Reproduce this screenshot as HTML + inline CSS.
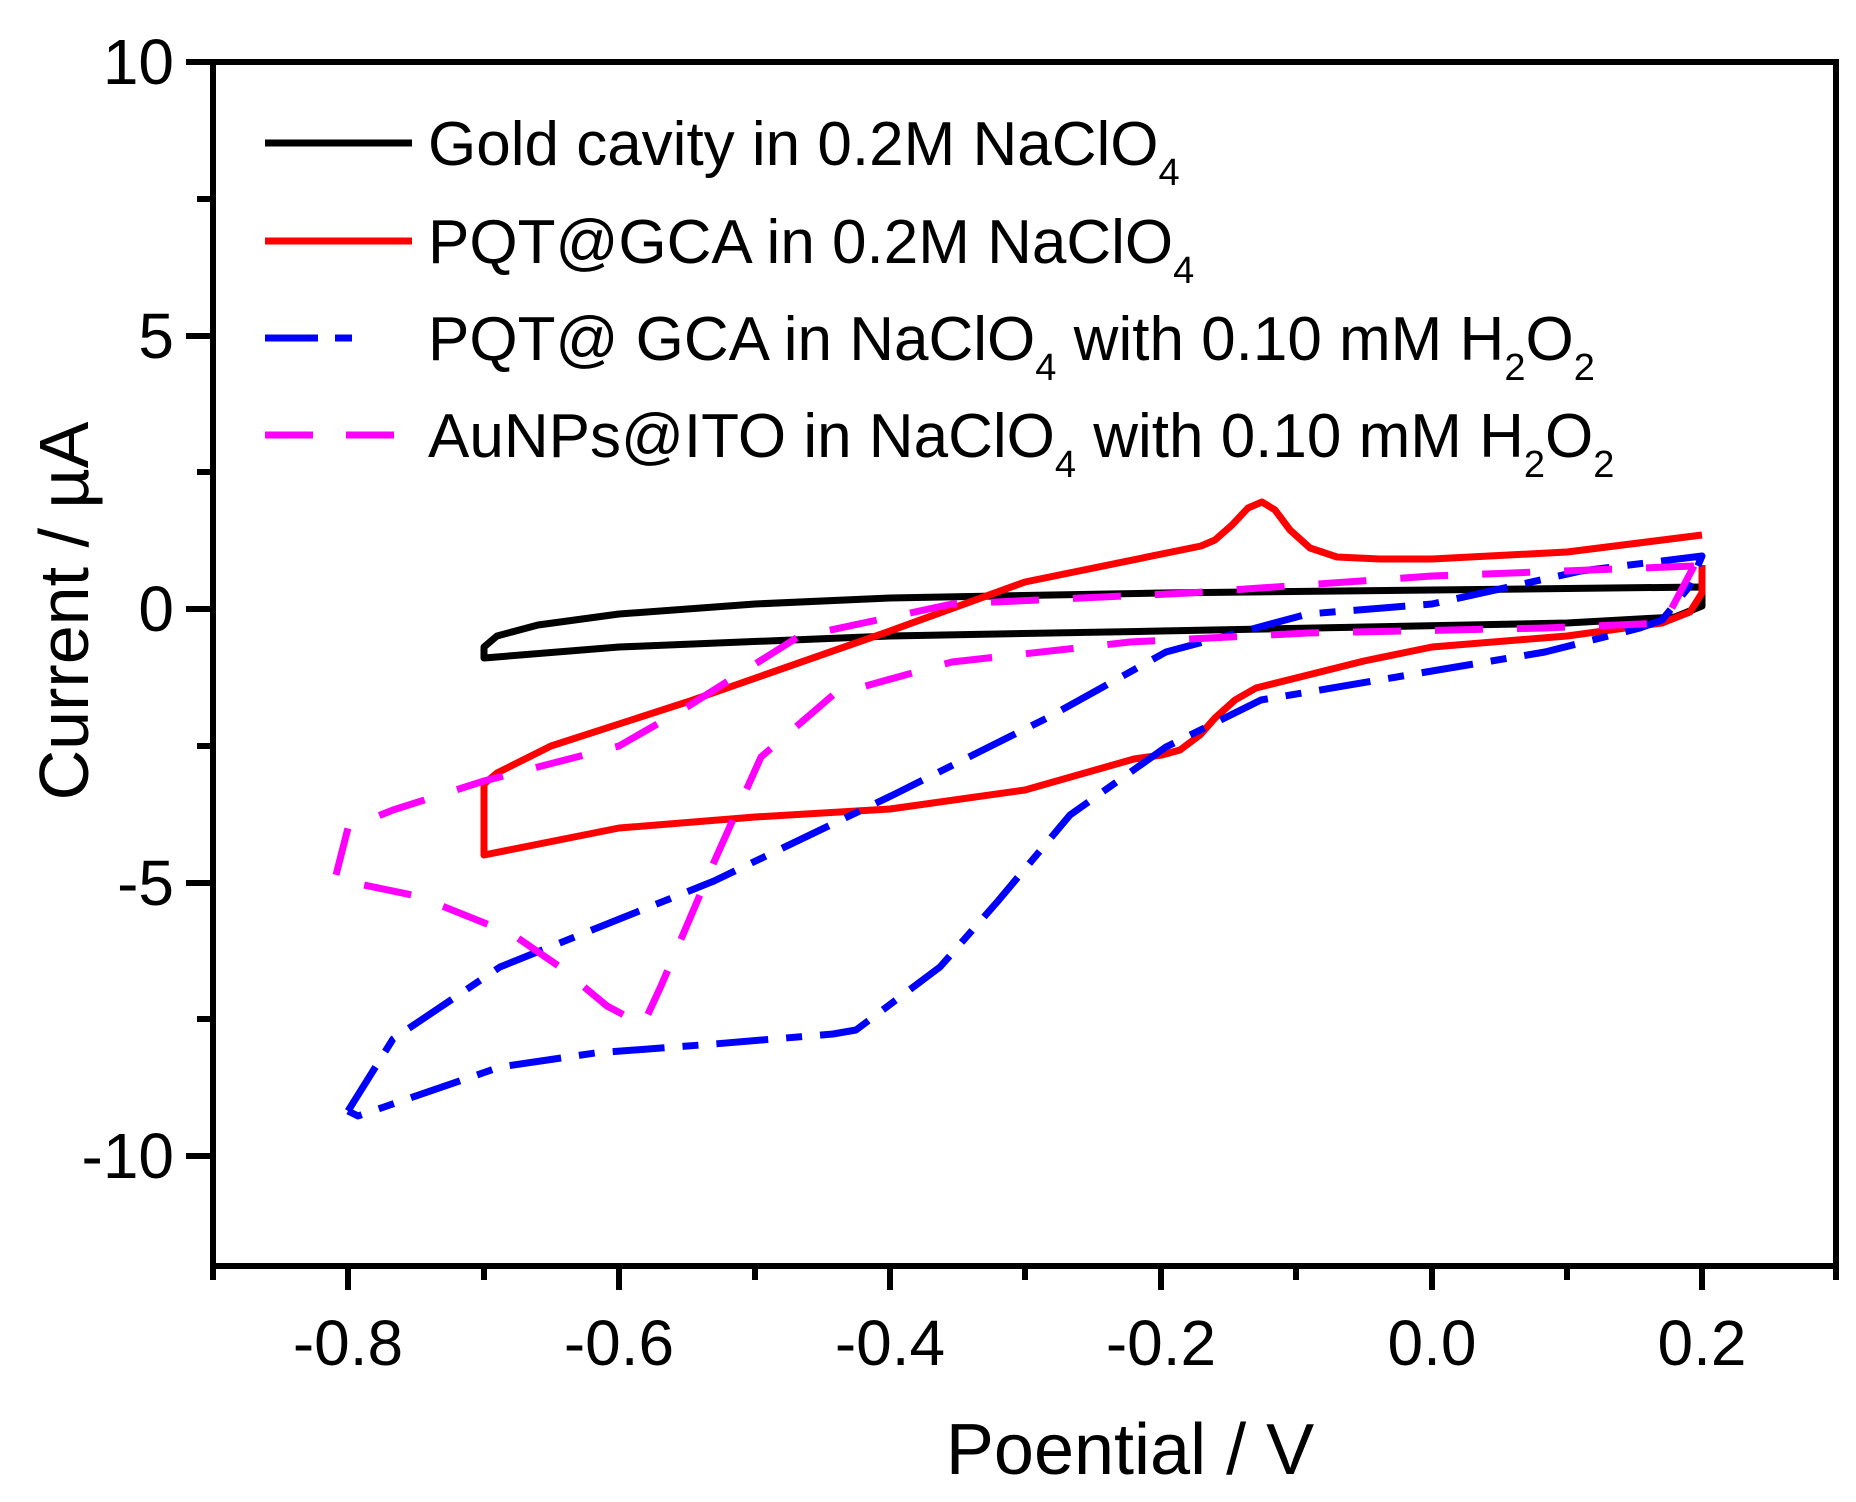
<!DOCTYPE html>
<html><head><meta charset="utf-8"><style>html,body{margin:0;padding:0;background:#fff}svg{display:block}</style></head>
<body>
<svg width="1856" height="1502" viewBox="0 0 1856 1502" xmlns="http://www.w3.org/2000/svg" font-family="Liberation Sans, Arial, sans-serif">
<rect width="1856" height="1502" fill="#fff"/>
<g fill="none" stroke-width="7" stroke-linejoin="round" stroke-linecap="butt">
<polyline stroke="#000" points="1702,587 1432,590 1161,593 890,598 755,604 619,614 538,625 497,636 484,647 484,658 619,647 890,636 1161,631 1567,623 1675,617 1702,606 1702,587"/>
<polyline stroke="#ff0000" points="1702,535 1567,552 1432,559 1380,559 1337,557 1310,548 1290,530 1275,510 1262,502 1248,508 1232,525 1215,540 1201,546 1025,582 890,631 687,702 551,746 497,773 484,784 484,855 619,828 755,817 890,809 1025,790 1134,759 1162,755 1180,750 1200,735 1215,718 1235,700 1256,688 1364,661 1432,647 1567,636 1662,623 1690,612 1702,593 1702,565"/>
<polyline stroke="#0000ff" stroke-dasharray="52,18,16,18" points="348,1111 393,1039 500,967 714,881 893,795 1047,718 1166,652 1308,614 1432,604 1581,571 1702,556 1689,587 1662,620 1640,628 1545,652 1432,671 1261,700 1166,747 1070,815 998,901 940,967 856,1030 833,1034 714,1044 595,1053 500,1067 358,1116 348,1111"/>
<polyline stroke="#ff00ff" stroke-dasharray="48,34" points="1694,566 1432,576 1189,593 952,604 798,637 687,707 619,746 484,781 393,810 348,828 335,879 417,896 512,934 560,967 607,1006 643,1025 661,986 714,862 761,757 833,695 952,662 1130,642 1308,633 1545,628 1664,623 1694,566"/>
</g>
<rect x="213" y="62" width="1623" height="1204" fill="none" stroke="#000" stroke-width="6"/>
<g stroke="#000" stroke-width="6">
<line x1="186" y1="62" x2="213" y2="62"/><line x1="186" y1="336" x2="213" y2="336"/><line x1="186" y1="609" x2="213" y2="609"/><line x1="186" y1="883" x2="213" y2="883"/><line x1="186" y1="1156" x2="213" y2="1156"/>
<line x1="197" y1="199" x2="213" y2="199"/><line x1="197" y1="472" x2="213" y2="472"/><line x1="197" y1="746" x2="213" y2="746"/><line x1="197" y1="1019" x2="213" y2="1019"/>
<line x1="348" y1="1266" x2="348" y2="1290"/><line x1="619" y1="1266" x2="619" y2="1290"/><line x1="890" y1="1266" x2="890" y2="1290"/><line x1="1161" y1="1266" x2="1161" y2="1290"/><line x1="1432" y1="1266" x2="1432" y2="1290"/><line x1="1702" y1="1266" x2="1702" y2="1290"/>
<line x1="213" y1="1266" x2="213" y2="1280"/><line x1="484" y1="1266" x2="484" y2="1280"/><line x1="755" y1="1266" x2="755" y2="1280"/><line x1="1025" y1="1266" x2="1025" y2="1280"/><line x1="1296" y1="1266" x2="1296" y2="1280"/><line x1="1567" y1="1266" x2="1567" y2="1280"/><line x1="1836" y1="1266" x2="1836" y2="1280"/>
</g>
<g font-size="64" fill="#000" text-anchor="end">
<text x="174" y="84">10</text><text x="174" y="358">5</text><text x="174" y="631">0</text><text x="174" y="905">-5</text><text x="174" y="1178">-10</text>
</g>
<g font-size="64" fill="#000" text-anchor="middle">
<text x="348" y="1365">-0.8</text><text x="619" y="1365">-0.6</text><text x="890" y="1365">-0.4</text><text x="1161" y="1365">-0.2</text><text x="1432" y="1365">0.0</text><text x="1702" y="1365">0.2</text>
</g>
<text x="1130" y="1474" font-size="72" text-anchor="middle">Poential / V</text>
<text transform="translate(88,611) rotate(-90)" font-size="70" text-anchor="middle">Current / µA</text>
<g stroke-width="7" fill="none">
<line x1="265" y1="143" x2="412" y2="143" stroke="#000"/>
<line x1="265" y1="241" x2="412" y2="241" stroke="#ff0000"/>
<line x1="265" y1="338" x2="412" y2="338" stroke="#0000ff" stroke-dasharray="53,17,17,100"/>
<line x1="265" y1="435" x2="412" y2="435" stroke="#ff00ff" stroke-dasharray="48,33"/>
</g>
<g font-size="62" fill="#000">
<text x="428" y="165">Gold cavity in 0.2M NaClO<tspan font-size="38" dy="20">4</tspan></text>
<text x="428" y="263">PQT@GCA in 0.2M NaClO<tspan font-size="38" dy="20">4</tspan></text>
<text x="428" y="360">PQT@ GCA in NaClO<tspan font-size="38" dy="20">4</tspan><tspan dy="-20"> with 0.10 mM H</tspan><tspan font-size="38" dy="20">2</tspan><tspan dy="-20">O</tspan><tspan font-size="38" dy="20">2</tspan></text>
<text x="428" y="457">AuNPs@ITO in NaClO<tspan font-size="38" dy="20">4</tspan><tspan dy="-20"> with 0.10 mM H</tspan><tspan font-size="38" dy="20">2</tspan><tspan dy="-20">O</tspan><tspan font-size="38" dy="20">2</tspan></text>
</g>
</svg>
</body></html>
